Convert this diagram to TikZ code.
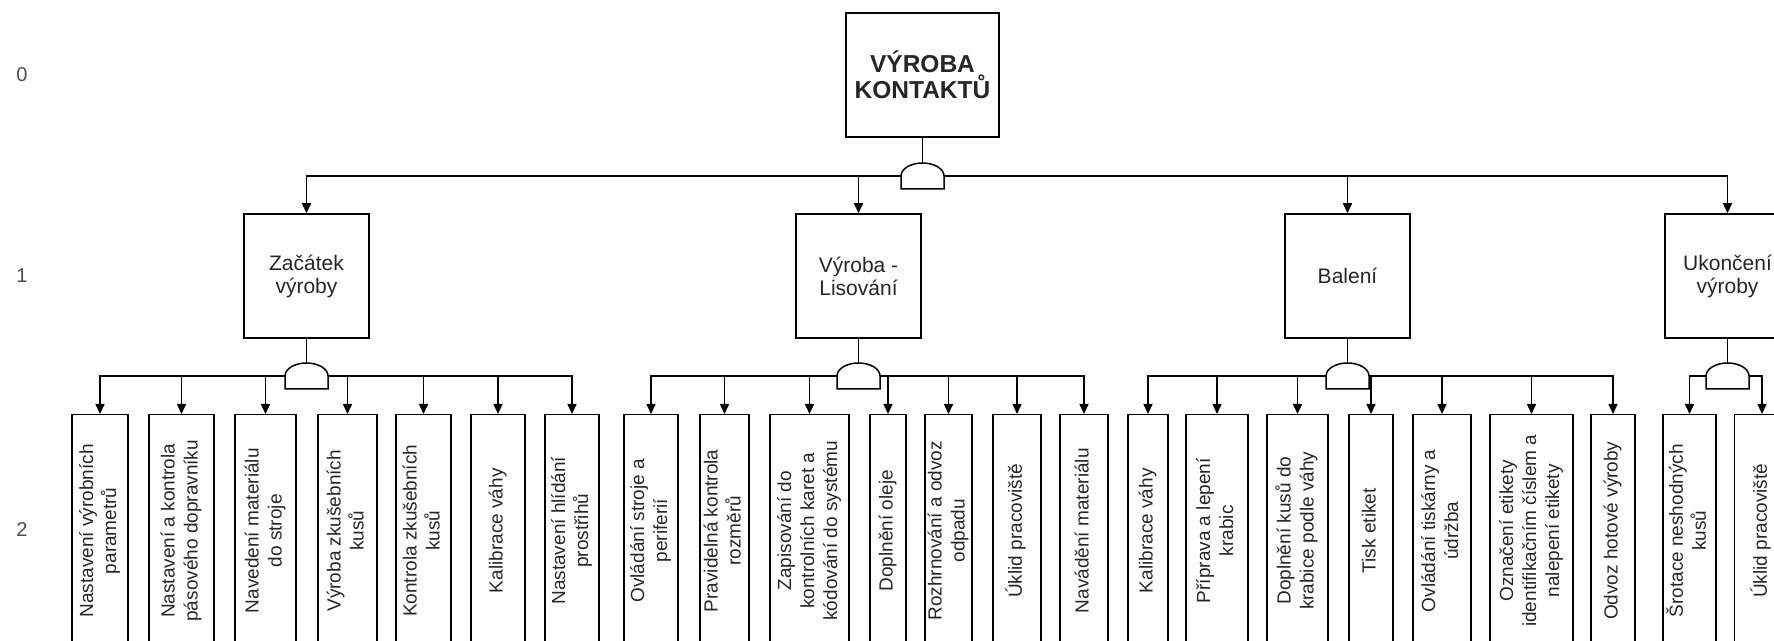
\documentclass[tikz,border=0pt]{standalone}
\usepackage{fontspec}
\setmainfont{Liberation Sans}
\usepackage{graphicx}
\usetikzlibrary{arrows.meta}

\newcommand{\vtext}[1]{\rotatebox{90}{\begin{tabular}{@{}c@{}}#1\end{tabular}}}
\newcommand{\gateshape}[1]{\draw[fill=white] (#1.south west) -- (#1.west) arc[start angle=180,end angle=0,x radius=21.5pt,y radius=13pt] -- (#1.south east) -- cycle;}

\tikzset{
  box/.style={draw, inner sep=0pt, text=black!85},
  topbox/.style={box, minimum width=153pt, minimum height=124pt, align=center, font=\fontsize{24.5}{26}\selectfont\bfseries},
  phase/.style={box, minimum width=125pt, minimum height=124pt, align=center, font=\fontsize{21}{23}\selectfont},
  task/.style={box, anchor=north, minimum height=232pt, font=\fontsize{19}{23}\selectfont},
  andgate/.style={minimum width=43pt, minimum height=26pt, inner sep=0pt, outer sep=0pt},
  lvl/.style={text=black!70, font=\fontsize{20}{22}\selectfont},
  arr/.style={-{Triangle[length=10pt,width=9pt]}},
  bus/.style={line cap=rect}
}

\begin{document}
\begin{tikzpicture}[x=1pt, y=1pt, line width=1.5pt]
\useasboundingbox (0,0) rectangle (1774,640);
\clip (0,0) rectangle (1774,640);

\node[lvl] (lv0) at (22,565) {0};
\node[lvl] (lv1) at (22,364) {1};
\node[lvl] (lv2) at (22,110) {2};

\node[topbox] (top) at (922.5,565) {VÝROBA\\KONTAKTŮ};
\node[andgate] (g0) at (922.5,464) {};

\node[phase] (zac) at (306.5,364) {Začátek\\výroby};
\node[phase] (lis) at (858.5,364) {Výroba -\\Lisování};
\node[phase] (bal) at (1347.5,364) {Balení};
\node[phase] (uko) at (1727.5,364) {Ukončení\\výroby};

\node[andgate] (g1) at (306.5,264) {};
\node[andgate] (g2) at (858.5,264) {};
\node[andgate] (g3) at (1347.5,264) {};
\node[andgate] (g4) at (1727.5,264) {};

\node[task, minimum width=56pt] (z1) at (100,226) {\vtext{Nastavení výrobních\\parametrů}};
\node[task, minimum width=65pt] (z2) at (181.5,226) {\vtext{Nastavení a kontrola\\pásového dopravníku}};
\node[task, minimum width=61pt] (z3) at (265.5,226) {\vtext{Navedení materiálu\\do stroje}};
\node[task, minimum width=59pt] (z4) at (347.5,226) {\vtext{Výroba zkušebních\\kusů}};
\node[task, minimum width=55pt] (z5) at (423.5,226) {\vtext{Kontrola zkušebních\\kusů}};
\node[task, minimum width=54pt] (z6) at (498,226) {\vtext{Kalibrace váhy}};
\node[task, minimum width=54pt] (z7) at (572,226) {\vtext{Nastavení hlídání\\prostřihů}};

\node[task, minimum width=54pt] (v1) at (651,226) {\vtext{Ovládání stroje a\\periferií}};
\node[task, minimum width=49pt] (v2) at (724.5,226) {\vtext{Pravidelná kontrola\\rozměrů}};
\node[task, minimum width=79pt] (v3) at (809.5,226) {\vtext{Zapisování do\\kontrolních karet a\\kódování do systému}};
\node[task, minimum width=36pt] (v4) at (888,226) {\vtext{Doplnění oleje}};
\node[task, minimum width=47pt] (v5) at (948.5,226) {\vtext{Rozhrnování a odvoz\\odpadu}};
\node[task, minimum width=48pt] (v6) at (1017,226) {\vtext{Úklid pracoviště}};
\node[task, minimum width=48pt] (v7) at (1084,226) {\vtext{Navádění materiálu}};

\node[task, minimum width=40pt] (b1) at (1148,226) {\vtext{Kalibrace váhy}};
\node[task, minimum width=62pt] (b2) at (1217,226) {\vtext{Příprava a lepení\\krabic}};
\node[task, minimum width=61pt] (b3) at (1297.5,226) {\vtext{Doplnění kusů do\\krabice podle váhy}};
\node[task, minimum width=44pt] (b4) at (1371,226) {\vtext{Tisk etiket}};
\node[task, minimum width=58pt] (b5) at (1442,226) {\vtext{Ovládání tiskárny a\\údržba}};
\node[task, minimum width=83pt] (b6) at (1531.5,226) {\vtext{Označení etikety\\identifikačním číslem a\\nalepení etikety}};
\node[task, minimum width=44pt] (b7) at (1613,226) {\vtext{Odvoz hotové výroby}};

\node[task, minimum width=53pt] (u1) at (1689.5,226) {\vtext{Šrotace neshodných\\kusů}};
\node[task, minimum width=55pt] (u2) at (1762,226) {\vtext{Úklid pracoviště}};

\draw (top.south) -- (g0.north);
\draw[bus] (zac.north |- g0.center) -- (uko.north |- g0.center);
\foreach \p in {zac,lis,bal,uko}
  \draw[arr] (\p.north |- g0.center) -- (\p.north);

\draw (zac.south) -- (g1.north);
\draw (lis.south) -- (g2.north);
\draw (bal.south) -- (g3.north);
\draw (uko.south) -- (g4.north);

\draw[bus] (z1.north |- g1.center) -- (z7.north |- g1.center);
\draw[bus] (v1.north |- g2.center) -- (v7.north |- g2.center);
\draw[bus] (b1.north |- g3.center) -- (b7.north |- g3.center);
\draw[bus] (u1.north |- g4.center) -- (u2.north |- g4.center);

\foreach \t in {z1,z2,z3,z4,z5,z6,z7}
  \draw[arr] (\t.north |- g1.center) -- (\t.north);
\foreach \t in {v1,v2,v3,v4,v5,v6,v7}
  \draw[arr] (\t.north |- g2.center) -- (\t.north);
\foreach \t in {b1,b2,b3,b4,b5,b6,b7}
  \draw[arr] (\t.north |- g3.center) -- (\t.north);
\foreach \t in {u1,u2}
  \draw[arr] (\t.north |- g4.center) -- (\t.north);

\gateshape{g0}
\gateshape{g1}
\gateshape{g2}
\gateshape{g3}
\gateshape{g4}
\end{tikzpicture}
\end{document}
